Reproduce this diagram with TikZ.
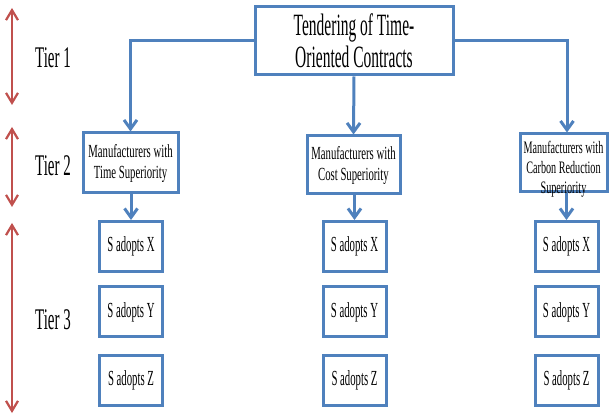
\documentclass[tikz,border=0pt]{standalone}
\usepackage{fontspec}
\usetikzlibrary{arrows.meta}
\setmainfont{Liberation Serif}
\newfontfamily\condA[FakeStretch=0.5]{Liberation Serif}
\newfontfamily\condB[FakeStretch=0.58]{Liberation Serif}
\definecolor{boxblue}{RGB}{79,129,189}
\definecolor{tierred}{RGB}{192,80,77}
\tikzset{
  bluebox/.style={draw=boxblue, line width=3pt, fill=white, inner sep=0pt, align=center},
  conn/.style={draw=boxblue, line width=3pt, -{Straight Barb[length=9pt,width=13pt]}},
  tierarrow/.style={draw=tierred, line width=2.2pt,
    {Straight Barb[length=10pt,width=12pt]}-{Straight Barb[length=10pt,width=12pt]}},
  tierlabel/.style={font=\condA\fontsize{30}{32}\selectfont, inner sep=0pt},
  titlefont/.style={font=\condA\fontsize{31}{32}\selectfont},
  midfont/.style={font=\condB\fontsize{18.5}{21}\selectfont},
  smallfont/.style={font=\condB\fontsize{17.5}{20}\selectfont},
  adoptbox/.style={bluebox, minimum width=63pt, minimum height=50pt,
    font=\condA\fontsize{21.5}{24}\selectfont},
}
\begin{document}
\begin{tikzpicture}[x=1pt,y=-1pt]
\useasboundingbox (0,0) rectangle (611,414);

% tier 1: tendering
\node[bluebox, titlefont, minimum width=198pt, minimum height=68pt] (top) at (354,41)
  {Tendering of Time-\\Oriented Contracts};

% tier 2: manufacturers
\node[bluebox, midfont, minimum width=95pt, minimum height=60pt] (m1) at (130.5,163)
  {Manufacturers with\\Time Superiority};
\node[bluebox, midfont, minimum width=93pt, minimum height=58pt] (m2) at (353.5,165)
  {Manufacturers with\\Cost Superiority};
\node[bluebox, minimum width=87pt, minimum height=58pt] (m3) at (563.5,163) {};
\node[smallfont, align=center, inner sep=0pt] (m3text) at (563.5,169)
  {Manufacturers with\\Carbon Reduction\\Superiority};

% tier 3: adoption options
\foreach \c/\x in {1/131, 2/354.5, 3/566.5}{
  \node[adoptbox] (x\c) at (\x,246.5) {S adopts X};
  \node[adoptbox] (y\c) at (\x,312) {S adopts Y};
  \node[adoptbox] (z\c) at (\x,380.5) {S adopts Z};
}

% connectors
\draw[conn] (top.west) -| (m1.north);
\draw[conn] (top.east) -| ([xshift=3.5pt]m3.north);
\draw[conn] (top.south) -- (m2.north);
\draw[conn] (m1.south -| x1.north) -- (x1.north);
\draw[conn] (m2.south -| x2.north) -- (x2.north);
\draw[conn] (m3.south -| x3.north) -- (x3.north);

% tier markers
\coordinate (t1a) at (12,8);
\coordinate (t1b) at (12,105);
\coordinate (t2a) at (12,127);
\coordinate (t2b) at (12,207);
\coordinate (t3a) at (12,223);
\coordinate (t3b) at (12,413);
\draw[tierarrow] (t1a) -- (t1b);
\draw[tierarrow] (t2a) -- (t2b);
\draw[tierarrow] (t3a) -- (t3b);

\node[tierlabel] (tier1) at (53,57.5) {Tier 1};
\node[tierlabel] (tier2) at (53,166) {Tier 2};
\node[tierlabel] (tier3) at (53,320) {Tier 3};
\end{tikzpicture}
\end{document}
